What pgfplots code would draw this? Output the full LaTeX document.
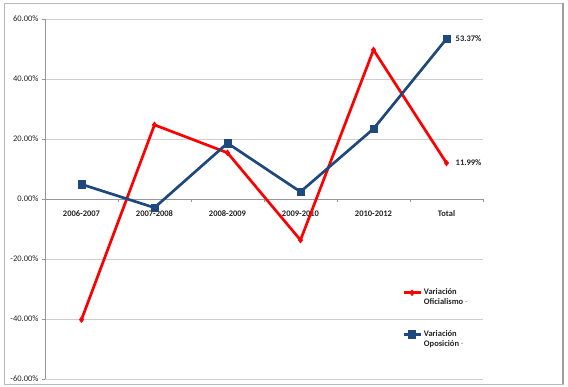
\documentclass[border=0pt]{standalone}
\usepackage{pgfplots}
\pgfplotsset{compat=1.18}
\usepackage{fontspec}
\setmainfont{Carlito}
\definecolor{ofred}{RGB}{255,0,0}
\definecolor{opblue}{RGB}{31,73,125}
\definecolor{gridgray}{RGB}{205,205,205}
\definecolor{axgray}{RGB}{150,150,150}
\definecolor{txt}{RGB}{35,35,35}
\begin{document}
\begin{tikzpicture}
\path[use as bounding box] (0pt,0pt) rectangle (568pt,387pt);
\draw[gray!55, line width=0.8pt] (4.5pt,3pt) rectangle (563pt,384pt);
\draw[gray!75, line width=1.2pt] (563pt,3pt) -- (563pt,384pt);
\begin{axis}[
  at={(45pt,8pt)}, anchor=south west,
  scale only axis, width=438pt, height=360pt,
  xmin=-0.5, xmax=5.5, ymin=-60, ymax=60,
  axis x line=middle, axis y line=left,
  hide obscured x ticks=false, hide obscured y ticks=false,
  axis line style={-, draw=axgray, line width=0.7pt},
  xtick={0,...,5},
  xticklabels={2006-2007,2007-2008,2008-2009,2009-2010,2010-2012,Total},
  major x tick style={draw=none},
  minor xtick={0.5,1.5,...,5.5},
  minor x tick style={draw=axgray, line width=0.7pt},
  tick align=outside, minor tick length=3pt, major tick length=3pt,
  ytick={-60,-40,...,60},
  y tick style={draw=axgray, line width=0.7pt},
  ymajorgrids, grid style={draw=gridgray, line width=0.8pt},
  yticklabel={\pgfmathprintnumber[fixed,fixed zerofill,precision=2]{\tick}\%},
  /pgf/number format/assume math mode=true,
  xticklabel style={font=\fontsize{8.5}{10}\selectfont\bfseries, text=txt, yshift=-5pt},
  yticklabel style={font=\fontsize{8.5}{10}\selectfont, text=txt},
  legend style={at={(0.815,0.256)}, anchor=north west, draw=none, fill=none,
    font=\fontsize{8.5}{10}\selectfont\bfseries, text=txt,
    row sep=30pt, inner sep=0pt},
  legend cell align=left,
  clip=false,
]
\addplot[color=ofred, line width=2.7pt, mark=diamond*, mark size=3pt,
  mark options={solid, line width=0.4pt},
  nodes near coords, point meta=explicit symbolic,
  nodes near coords style={anchor=west, inner sep=0pt, xshift=9pt,
    font=\fontsize{8.5}{10}\selectfont\bfseries, text=txt}]
coordinates {(0,-40.2) [] (1,24.7) [] (2,15.4) [] (3,-13.7) [] (4,49.7) [] (5,11.99) [11.99\%]};
\addlegendentry{\vtop{\hbox{Variación}\hbox{Oficialismo {\color{gray!60}-}}}}
\addplot[color=opblue, line width=2.7pt, mark=square*, mark size=3.6pt,
  mark options={solid, line width=0.4pt},
  nodes near coords, point meta=explicit symbolic,
  nodes near coords style={anchor=west, inner sep=0pt, xshift=9pt,
    font=\fontsize{8.5}{10}\selectfont\bfseries, text=txt}]
coordinates {(0,4.9) [] (1,-2.9) [] (2,18.6) [] (3,2.4) [] (4,23.4) [] (5,53.37) [53.37\%]};
\addlegendentry{\vtop{\hbox{Variación}\hbox{Oposición {\color{gray!60}-}}}}
\end{axis}
\end{tikzpicture}
\end{document}
